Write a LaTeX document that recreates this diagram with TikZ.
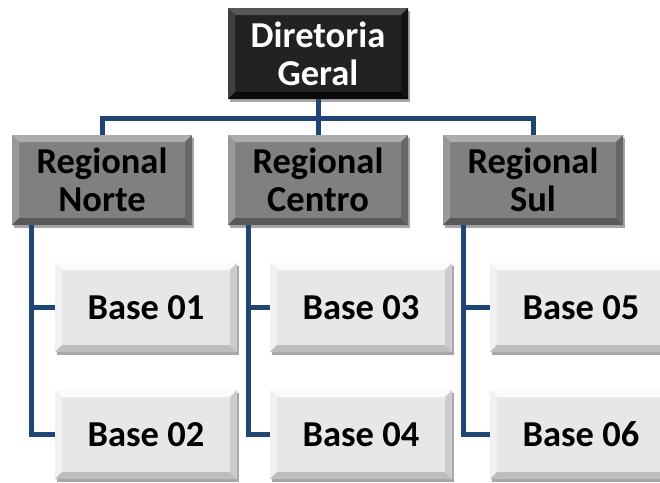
\documentclass[tikz,border=0pt]{standalone}
\usepackage{fontspec}
\setmainfont{Carlito}
\usetikzlibrary{shadows}

\definecolor{linkblue}{HTML}{1F4575}
\definecolor{topfill}{HTML}{222222}
\definecolor{toplight}{HTML}{575757}
\definecolor{topdark}{HTML}{0B0B0B}
\definecolor{regfill}{HTML}{808080}
\definecolor{reglight}{HTML}{ADADAD}
\definecolor{regdark}{HTML}{595959}
\definecolor{basefill}{HTML}{E7E7E7}
\definecolor{baselight}{HTML}{FAFAFA}
\definecolor{basedark}{HTML}{BDBDBD}

\tikzset{
  % raised box: #1 face, #2 light bevel, #3 dark bevel
  bevelbox/.style n args={3}{
    fill=#1, inner sep=0pt, align=center,
    font=\bfseries\fontsize{36.5}{38}\selectfont,
    drop shadow={shadow xshift=2pt, shadow yshift=-3pt, opacity=0.35, fill=black},
    path picture={
      \coordinate (nw) at (path picture bounding box.north west);
      \coordinate (ne) at (path picture bounding box.north east);
      \coordinate (sw) at (path picture bounding box.south west);
      \coordinate (se) at (path picture bounding box.south east);
      \fill[#2] (nw) -- (ne) -- ([xshift=-7pt,yshift=-7pt]ne) -- ([xshift=7pt,yshift=-7pt]nw) -- cycle;
      \fill[#2!55!#1] (nw) -- (sw) -- ([xshift=7pt,yshift=7pt]sw) -- ([xshift=7pt,yshift=-7pt]nw) -- cycle;
      \fill[#3] (sw) -- (se) -- ([xshift=-7pt,yshift=7pt]se) -- ([xshift=7pt,yshift=7pt]sw) -- cycle;
      \fill[#3!65!#1] (ne) -- (se) -- ([xshift=-7pt,yshift=7pt]se) -- ([xshift=-7pt,yshift=-7pt]ne) -- cycle;
    }},
  headbox/.style={bevelbox={topfill}{toplight}{topdark}, text=white,
    minimum width=180pt, minimum height=91pt},
  regbox/.style={bevelbox={regfill}{reglight}{regdark}, text=black,
    minimum width=180pt, minimum height=90pt},
  basebox/.style={bevelbox={basefill}{baselight}{basedark}, text=black,
    minimum width=182pt, minimum height=89pt},
  link/.style={draw=linkblue, line width=5pt}
}

\begin{document}
\begin{tikzpicture}[x=1pt, y=-1pt]
  \useasboundingbox (0,0) rectangle (660,482);
  \clip (0,0) rectangle (660,482);

  % junction points of the connector tree
  \coordinate (barL) at (102,118);
  \coordinate (barR) at (533,118);
  \coordinate (trunkN) at (31,225);
  \coordinate (trunkC) at (248,225);
  \coordinate (trunkS) at (463,225);

  \node[headbox] (D) at (318,53.5) {Diretoria\\Geral};

  \node[regbox] (RN) at (102,180) {Regional\\Norte};
  \node[regbox] (RC) at (318,180) {Regional\\Centro};
  \node[regbox] (RS) at (533,180) {Regional\\Sul};

  \node[basebox] (B1) at (146,307.5) {Base 01};
  \node[basebox] (B2) at (146,434.5) {Base 02};
  \node[basebox] (B3) at (361,307.5) {Base 03};
  \node[basebox] (B4) at (361,434.5) {Base 04};
  \node[basebox] (B5) at (581,307.5) {Base 05};
  \node[basebox] (B6) at (581,434.5) {Base 06};

  % head to regionals
  \draw[link] (D.south) -- (D.south |- barL);
  \draw[link] (RN.north) -- (RN.north |- barL) -- (RS.north |- barR) -- (RS.north);
  \draw[link] (RC.north |- barL) -- (RC.north);

  % regionals to bases
  \draw[link] (trunkN) |- (B1.west);
  \draw[link] (trunkN) |- (B2.west);
  \draw[link] (trunkC) |- (B3.west);
  \draw[link] (trunkC) |- (B4.west);
  \draw[link] (trunkS) |- (B5.west);
  \draw[link] (trunkS) |- (B6.west);
\end{tikzpicture}
\end{document}
